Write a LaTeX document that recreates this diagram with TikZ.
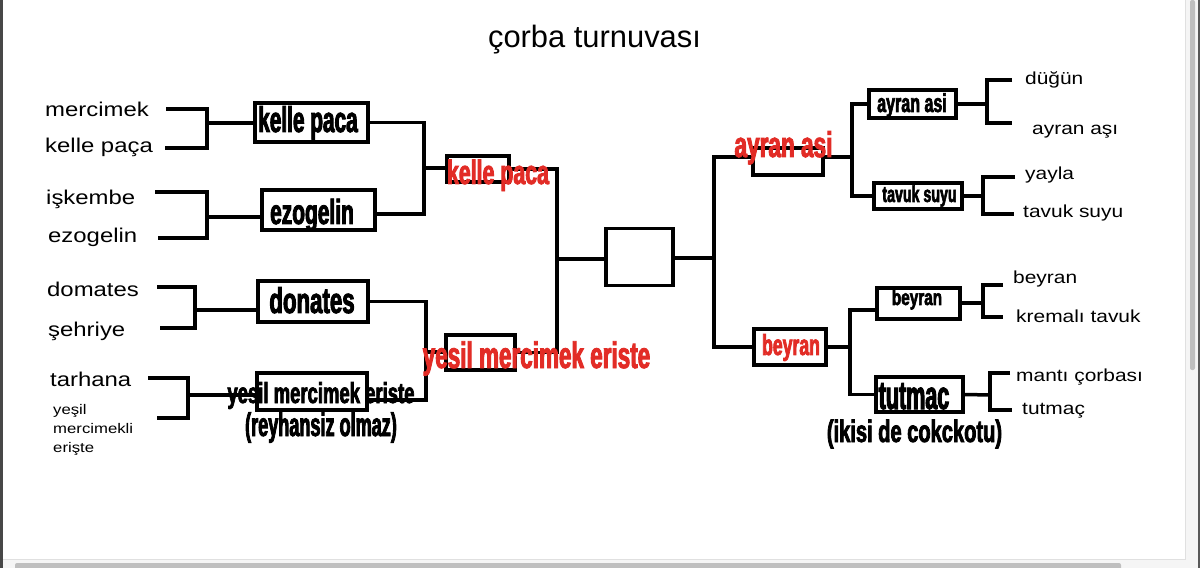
\documentclass[tikz,border=0pt]{standalone}
\usepackage{fontspec}
\setmainfont{Liberation Sans}
\newfontfamily\labfont[FakeStretch=1.2]{Liberation Sans}
\definecolor{tred}{RGB}{226,44,38}
\tikzset{
  ln/.style={line width=3.5bp, black},
  box/.style={draw, line width=3.5bp, inner sep=0pt},
  lab/.style={anchor=base west, inner sep=0pt, font=\labfont\fontsize{20}{20}\selectfont},
  rlab/.style={anchor=base west, inner sep=0pt, font=\labfont\fontsize{17.5}{17.5}\selectfont},
  slab/.style={anchor=base west, inner sep=0pt, font=\labfont\fontsize{14}{14}\selectfont},
  imp/.style n args={2}{anchor=base, inner sep=0pt, font={\fontspec[FakeStretch=#2,FakeBold=2.5]{Liberation Sans Bold}\fontsize{#1}{#1}\selectfont}},
}
\begin{document}
\begin{tikzpicture}[x=1bp,y=-1bp]
\useasboundingbox (0,0) rectangle (1200,568);
\fill[white] (0,0) rectangle (1200,568);
% frame / scrollbars
\fill[black!72] (0,0) rectangle (3,568);
\fill[black!4] (1186,0) rectangle (1200,568);
\fill[black!4] (3,560) rectangle (1200,568);
\draw[black!12, line width=1bp] (3,559.5) -- (1185.5,559.5) -- (1185.5,0);
\fill[black!25, rounded corners=2bp] (1190,0) rectangle (1195,370);
\fill[black!25, rounded corners=2bp] (15,563) rectangle (1121,570);
\fill[black!65] (1198,0) rectangle (1200,568);

% title
\node[anchor=base, inner sep=0pt, font=\fontsize{31}{31}\selectfont] (title) at (594.5,48) {çorba turnuvası};

% boxes
\node[box, minimum width=113bp, minimum height=39bp] (B1) at (311.5,122.5) {};
\node[box, minimum width=113bp, minimum height=40bp] (B2) at (318.5,210) {};
\node[box, minimum width=110bp, minimum height=41bp] (B3) at (313,301.5) {};
\node[box, minimum width=110bp, minimum height=37bp] (B4) at (312,391.5) {};
\node[box, minimum width=62bp, minimum height=26bp] (R1) at (478,169) {};
\node[box, minimum width=69bp, minimum height=35bp] (R2) at (480.5,352.5) {};
\node[box, minimum width=67bp, minimum height=57bp] (C) at (639.5,257) {};
\node[box, minimum width=70bp, minimum height=27bp] (R3) at (788,161.5) {};
\node[box, minimum width=72bp, minimum height=36bp] (R4) at (790,347) {};
\node[box, minimum width=87bp, minimum height=28bp] (B5) at (912.5,104) {};
\node[box, minimum width=88bp, minimum height=26bp] (B6) at (918,196) {};
\node[box, minimum width=83bp, minimum height=31bp] (B7) at (918.5,303.5) {};
\node[box, minimum width=87bp, minimum height=35bp] (B8) at (919.5,394.5) {};

% junction coordinates
\coordinate (l1a) at (166,109); \coordinate (l1b) at (165,148); \coordinate (j1) at (207,123);
\coordinate (l2a) at (155,192); \coordinate (l2b) at (158,238); \coordinate (j2) at (207,217);
\coordinate (l3a) at (157,287); \coordinate (l3b) at (160,328); \coordinate (j3) at (195,310);
\coordinate (l4a) at (148,378); \coordinate (l4b) at (157,418); \coordinate (j4) at (188,395);
\coordinate (k1) at (424,168); \coordinate (b2r) at (375,214);
\coordinate (k2) at (426,352); \coordinate (b4r) at (367,400);
\coordinate (m) at (557,259);
\coordinate (n) at (714,258);
\coordinate (r3l) at (753,157); \coordinate (r3r) at (823,157);
\coordinate (p) at (852,157);
\coordinate (q) at (850,347); \coordinate (b7l) at (877,310);
\coordinate (s1) at (987,104); \coordinate (t1a) at (1012,80); \coordinate (t1b) at (1012,123);
\coordinate (s2) at (983,196); \coordinate (t2a) at (1015,177); \coordinate (t2b) at (1014,214);
\coordinate (s3) at (983,303); \coordinate (t3a) at (1003,285); \coordinate (t3b) at (1003,317);
\coordinate (s4) at (990,395); \coordinate (t4a) at (1010,373); \coordinate (t4b) at (1012,410);

% connectors, left
\draw[ln] (l1a) -| (j1) |- (l1b); \draw[ln] (j1) -- (j1 -| B1.west);
\draw[ln] (l2a) -| (j2) |- (l2b); \draw[ln] (j2) -- (j2 -| B2.west);
\draw[ln] (l3a) -| (j3) |- (l3b); \draw[ln] (j3) -- (j3 -| B3.west);
\draw[ln] (l4a) -| (j4) |- (l4b); \draw[ln] (j4) -- (j4 -| B4.west);
\draw[ln] (B1.east) -| (k1) |- (b2r); \draw[ln] (k1) -- (k1 -| R1.west);
\draw[ln] (B3.east) -| (k2) |- (b4r); \draw[ln] (k2) -- (k2 -| R2.west);
\draw[ln] (R1.east) -| (m) |- (R2.east); \draw[ln] (m) -- (m -| C.west);
% connectors, right
\draw[ln] (n -| C.east) -- (n);
\draw[ln] (r3l) -| (n) |- (R4.west);
\draw[ln] (r3r) -- (p);
\draw[ln] (B5.west) -| (p) |- (B6.west);
\draw[ln] (R4.east) -- (q);
\draw[ln] (b7l) -| (q) |- (B8.west);
\draw[ln] (B5.east) -- (s1); \draw[ln] (t1a) -| (s1) |- (t1b);
\draw[ln] (B6.east) -- (s2); \draw[ln] (t2a) -| (s2) |- (t2b);
\draw[ln] (s3 -| B7.east) -- (s3); \draw[ln] (t3a) -| (s3) |- (t3b);
\draw[ln] (B8.east) -- (s4); \draw[ln] (t4a) -| (s4) |- (t4b);

% left labels
\node[lab] (L1) at (45,117) {mercimek};
\node[lab] (L2) at (45,153) {kelle paça};
\node[lab] (L3) at (46,205) {işkembe};
\node[lab] (L4) at (48,243) {ezogelin};
\node[lab] (L5) at (47,297) {domates};
\node[lab] (L6) at (48,337) {şehriye};
\node[lab] (L7) at (50,386) {tarhana};
\node[slab] (L8a) at (53,414) {yeşil};
\node[slab] (L8b) at (53,433) {mercimekli};
\node[slab] (L8c) at (53,452) {erişte};

% right labels
\node[rlab] (R1a) at (1025,85) {düğün};
\node[rlab] (R1b) at (1032,135) {ayran aşı};
\node[rlab] (R2a) at (1025,180) {yayla};
\node[rlab] (R2b) at (1023,218) {tavuk suyu};
\node[rlab] (R3a) at (1013,284) {beyran};
\node[rlab] (R3b) at (1016,323) {kremalı tavuk};
\node[rlab] (R4a) at (1016,381) {mantı çorbası};
\node[rlab] (R4b) at (1022,414) {tutmaç};

% handwritten picks
\node[imp={36}{0.58}] (T1) at (308,132) {kelle paca};
\node[imp={35}{0.6}] (T2) at (312,224) {ezogelin};
\node[imp={36}{0.62}] (T3) at (312,313) {donates};
\node[imp={29}{0.64}] (T4) at (321,403) {yesil mercimek eriste};
\node[imp={33}{0.55}] (T4b) at (321,436) {(reyhansiz olmaz)};
\node[imp={34}{0.63}, text=tred] (T5) at (498,184) {kelle paca};
\node[imp={37}{0.61}, text=tred] (T6) at (536.5,368) {yesil mercimek eriste};
\node[imp={36}{0.63}, text=tred] (T7) at (783.5,157) {ayran asi};
\node[imp={29}{0.61}, text=tred] (T8) at (791,355) {beyran};
\node[imp={26}{0.62}] (T9) at (912,112) {ayran asi};
\node[imp={23}{0.62}] (T10) at (919.5,202) {tavuk suyu};
\node[imp={22}{0.7}] (T11) at (917,305) {beyran};
\node[imp={40}{0.54}] (T12) at (914,409) {tutmac};
\node[imp={31}{0.65}] (T13) at (914.5,442) {(ikisi de cokckotu)};
\end{tikzpicture}
\end{document}
